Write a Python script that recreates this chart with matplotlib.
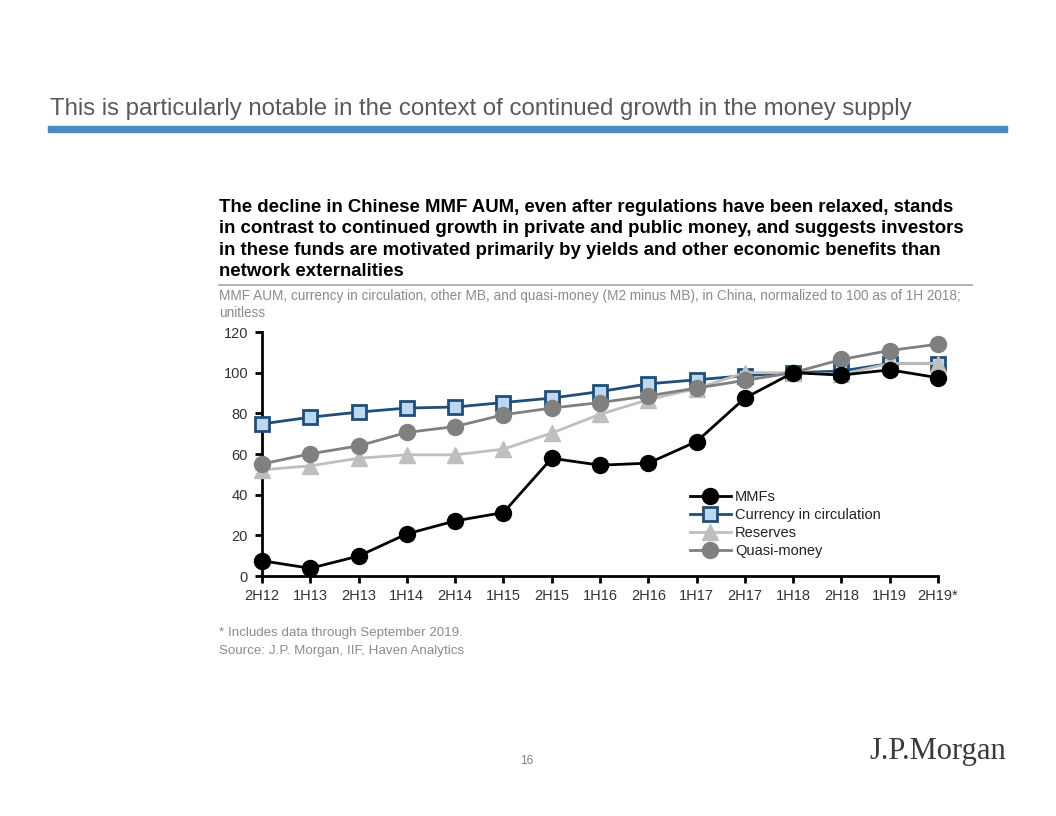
import matplotlib
matplotlib.use("Agg")
import matplotlib.pyplot as plt
from matplotlib.lines import Line2D

plt.rcParams['font.family'] = ['Liberation Sans', 'DejaVu Sans']

# data (normalized, 1H18 = 100)
periods = ['2H12', '1H13', '2H13', '1H14', '2H14', '1H15', '2H15', '1H16',
           '2H16', '1H17', '2H17', '1H18', '2H18', '1H19', '2H19*']
mmfs = [7.5, 3.8, 9.8, 20.7, 27.1, 31.2, 57.9, 54.5, 55.5, 66.1, 87.5, 100, 98.8, 101.4, 97.5]
currency = [74.8, 78.1, 80.6, 82.6, 83.1, 85.3, 87.5, 90.7, 94.5, 96.5, 98.5, 100, 100.8, 104.5, 104.5]
reserves = [52.2, 54.2, 57.9, 59.6, 59.6, 62.4, 70.3, 79.5, 86.7, 92.2, 100, 100, 99.2, 104.5, 104.5]
quasi = [55.1, 60.1, 64.0, 70.6, 73.5, 79.3, 82.6, 85.3, 88.6, 92.4, 96.2, 100, 106.5, 110.9, 114.0]

W, H = 1056, 816
fig = plt.figure(figsize=(W / 100, H / 100), dpi=100)


def fx(px):
    return px / W


def fy(py):
    return 1 - py / H


# page header
fig.text(fx(50), fy(109), 'This is particularly notable in the context of continued growth in the money supply',
         fontsize=17.3, color='#595959', va='center', ha='left')
fig.add_artist(plt.Rectangle((fx(48), fy(132)), fx(1007) - fx(48), 6 / H,
                             color='#4A8BC2', transform=fig.transFigure))

# chart title
title = ('The decline in Chinese MMF AUM, even after regulations have been relaxed, stands\n'
         'in contrast to continued growth in private and public money, and suggests investors\n'
         'in these funds are motivated primarily by yields and other economic benefits than\n'
         'network externalities')
fig.text(fx(219), fy(199), title, fontsize=13.4, fontweight='bold', color='black',
         va='top', ha='left', linespacing=1.33)
fig.add_artist(Line2D([fx(219), fx(972)], [fy(285), fy(285)], color='#A6A6A6', lw=1.2,
                      transform=fig.transFigure))
fig.text(fx(219), fy(289), 'MMF AUM, currency in circulation, other MB, and quasi-money (M2 minus MB), in China, '
         'normalized to 100 as of 1H 2018;\nunitless', fontsize=9.8, color='#8C8C8C',
         va='top', ha='left', linespacing=1.25)

# axes
ax = fig.add_axes([fx(262), fy(576), fx(938) - fx(262), (576 - 332) / H])
x = range(len(periods))
ax.plot(x, mmfs, color='black', lw=2, marker='o', ms=11.5, mfc='black', mec='black',
        label='MMFs', zorder=5, clip_on=False)
ax.plot(x, currency, color='#1F4E79', lw=2, marker='s', ms=10, mfc='#BDD7EE', mec='#1F4E79',
        mew=2, label='Currency in circulation', zorder=3, clip_on=False)
ax.plot(x, reserves, color='#BFBFBF', lw=2, marker='^', ms=11, mfc='#BFBFBF', mec='#BFBFBF',
        label='Reserves', zorder=4, clip_on=False)
ax.plot(x, quasi, color='#808080', lw=2, marker='o', ms=11.5, mfc='#808080', mec='#808080',
        label='Quasi-money', zorder=4, clip_on=False)

ax.set_xlim(0, len(periods) - 1)
ax.set_ylim(0, 120)
ax.set_yticks(range(0, 121, 20))
ax.set_xticks(list(x))
ax.set_xticklabels(periods)
for s in ['top', 'right']:
    ax.spines[s].set_visible(False)
for s in ['left', 'bottom']:
    ax.spines[s].set_linewidth(2)
    ax.spines[s].set_color('black')
ax.tick_params(axis='both', direction='out', length=5, width=2, labelsize=10.5,
               labelcolor='#333333')
ax.tick_params(axis='y', pad=5)
ax.tick_params(axis='x', pad=4)
ax.patch.set_alpha(0)

leg = ax.legend(loc='upper left', bbox_to_anchor=((690 - 262) / 676, (576 - 490) / 244),
                frameon=False, fontsize=10.5, handlelength=2.8, handletextpad=0.3,
                labelspacing=0.28, borderaxespad=0, borderpad=0)
for t in leg.get_texts():
    t.set_color('#222222')

# footnotes
fig.text(fx(219), fy(633), '* Includes data through September 2019.', fontsize=9.6,
         color='#8C8C8C', va='center', ha='left')
fig.text(fx(219), fy(651), 'Source: J.P. Morgan, IIF, Haven Analytics', fontsize=9.6,
         color='#8C8C8C', va='center', ha='left')

fig.text(fx(527), fy(761), '16', fontsize=8.5, color='#808080', va='center', ha='center')
fig.text(fx(1006), fy(752), 'J.P.Morgan', fontsize=22, color='#3A3A3A', va='center',
         ha='right', family=['Liberation Serif', 'DejaVu Serif'])

fig.savefig('out.png', dpi=100)
